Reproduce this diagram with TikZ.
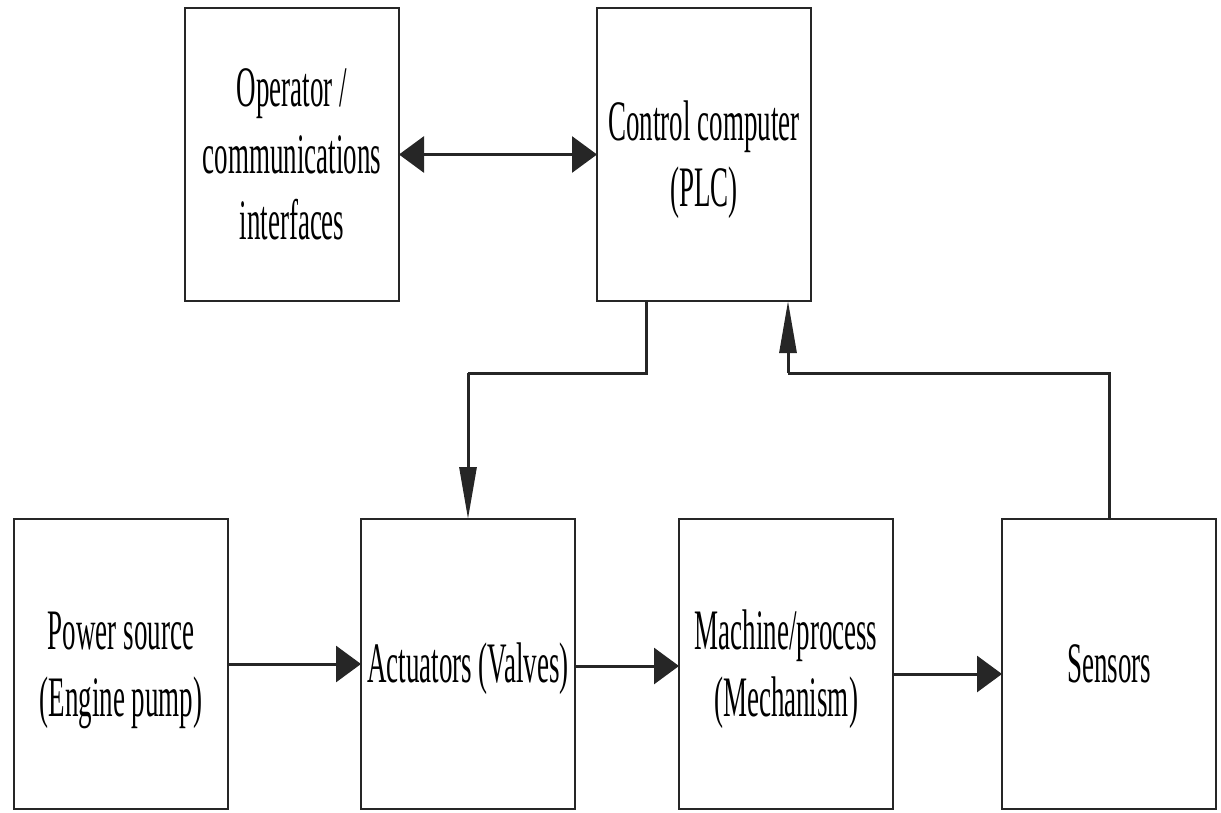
\documentclass[tikz,border=0pt]{standalone}
\usepackage{fontspec}
\setmainfont{Liberation Serif}
\usepackage{graphicx}
\usetikzlibrary{arrows.meta,calc}
\definecolor{ln}{HTML}{262626}
\newcommand{\vtxt}[1]{\raisebox{-5.5pt}[\height][\depth]{\scalebox{1}[2.12]{\begin{tabular}{@{}c@{}}#1\end{tabular}}}}
\tikzset{
  blk/.style={draw=ln, line width=2.6pt, rectangle, inner sep=0pt, outer sep=0pt,
    minimum width=214pt, font=\fontsize{27}{31.4}\selectfont, text=black},
  topblk/.style={blk, minimum height=293pt},
  botblk/.style={blk, minimum height=290pt},
  conn/.style={draw=ln, line width=3pt},
  harr/.style={conn, -{Triangle[length=25pt,width=36pt]}},
  darr/.style={conn, {Triangle[length=25pt,width=36pt]}-{Triangle[length=25pt,width=36pt]}},
  varr/.style={conn, -{Triangle[length=52pt,width=17pt]}}
}
\begin{document}
\begin{tikzpicture}[x=1pt,y=-1pt]
\useasboundingbox (0,0) rectangle (1221,813);
\node[topblk] (op) at (292,154.5) {\vtxt{Operator /\\communications\\interfaces}};
\node[topblk] (cc) at (704,154.5) {\vtxt{Control computer\\(PLC)}};
\node[botblk] (ps) at (121,664) {\vtxt{Power source\\(Engine pump)}};
\node[botblk] (ac) at (468,664) {\vtxt{Actuators (Valves)}};
\node[botblk] (mp) at (786,664) {\vtxt{Machine/process\\(Mechanism)}};
\node[botblk] (se) at (1109,664) {\vtxt{Sensors}};
\coordinate (j1) at (646,373);
\coordinate (j3) at (788,373);
\draw[darr] (op.east) -- (cc.west);
\draw[conn] (cc.south -| j1) -- (j1) -- (j1 -| ac.north);
\draw[varr] (j1 -| ac.north) -- (ac.north);
\draw[conn] (se.north) -- (se.north |- j3) -- (j3);
\draw[varr] (j3) -- (j3 |- cc.south);
\draw[harr] (ps.east) -- (ac.west);
\draw[harr] ($(ac.east)+(0,2)$) -- ($(mp.west)+(0,2)$);
\draw[harr] ($(mp.east)+(0,10)$) -- ($(se.west)+(0,10)$);
\end{tikzpicture}
\end{document}
